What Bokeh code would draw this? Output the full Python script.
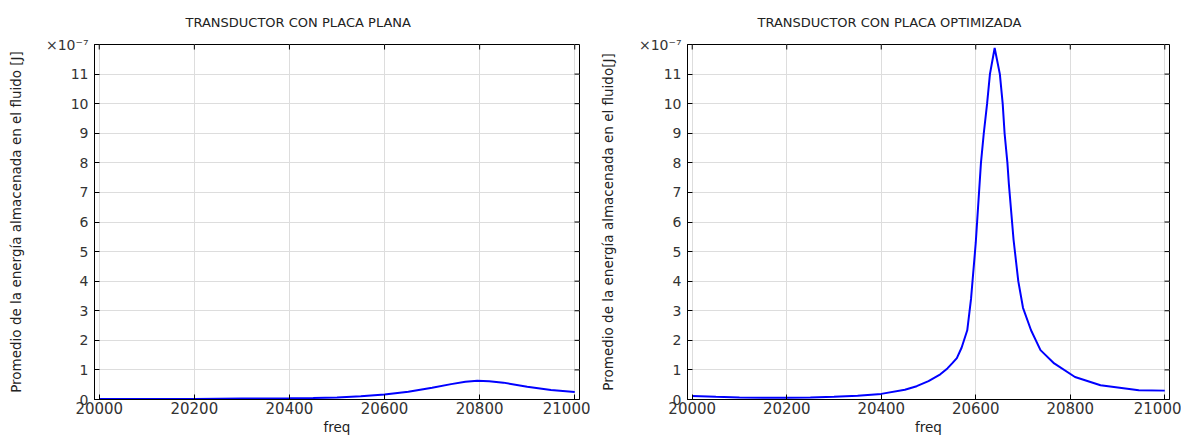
import math
from bokeh.plotting import figure
from bokeh.models import FixedTicker, Range1d
from bokeh.layouts import row
from bokeh.embed import file_html
from bokeh.resources import INLINE

# ---------------- data (energy in units of 1e-7 J) ----------------
freq_plana = [20000, 20100, 20200, 20300, 20400, 20450, 20500, 20550, 20600,
              20650, 20700, 20740, 20770, 20795, 20820, 20850, 20900, 20950, 21000]
energia_plana = [0.02, 0.02, 0.02, 0.03, 0.04, 0.05, 0.07, 0.11, 0.17,
                 0.26, 0.40, 0.52, 0.60, 0.63, 0.62, 0.57, 0.43, 0.32, 0.25]

freq_opt = [20000, 20050, 20100, 20150, 20200, 20250, 20300, 20350, 20400, 20450,
            20475, 20500, 20525, 20540, 20550, 20560, 20570, 20582, 20590, 20600,
            20611, 20617, 20624, 20630, 20640, 20651, 20657, 20661, 20667, 20670,
            20680, 20690, 20700, 20717, 20737, 20766, 20810, 20864, 20945, 21000]
energia_opt = [0.12, 0.09, 0.07, 0.06, 0.06, 0.07, 0.09, 0.13, 0.19, 0.33,
               0.45, 0.62, 0.85, 1.05, 1.22, 1.40, 1.75, 2.34, 3.40, 5.30,
               8.00, 9.00, 10.00, 11.00, 11.88, 11.00, 10.00, 9.00, 8.00, 7.30,
               5.40, 4.00, 3.10, 2.34, 1.67, 1.22, 0.76, 0.48, 0.31, 0.30]

x_ticks = [20000, 20200, 20400, 20600, 20800, 21000]
y_ticks = [0, 1, 2, 3, 4, 5, 6, 7, 8, 9, 10, 11, 12]
y_grid_ticks = [0, 1, 2, 3, 4, 5, 6, 7, 8, 9, 10, 11]
y_tick_labels = {12: "×10⁻⁷"}

titles = ["TRANSDUCTOR CON PLACA PLANA", "TRANSDUCTOR CON PLACA OPTIMIZADA"]
y_labels = ["Promedio de la energía almacenada en el fluido [J]",
            "Promedio de la energía almacenada en el fluido[J]"]
x_label = "freq"

X_MIN, X_MAX = 19990, 21010
Y_MIN, Y_MAX = 0, 12.0

FONT = "DejaVu Sans"


def make_fig(title, ylabel, xs, ys, width, bl, br, lab_standoff, t_off):
    p = figure(width=width, height=437, output_backend="svg", toolbar_location=None,
               x_range=Range1d(X_MIN, X_MAX), y_range=Range1d(Y_MIN, Y_MAX),
               min_border_left=bl, min_border_right=br,
               min_border_top=44, min_border_bottom=38)
    p.title.text = title
    p.title.align = "left"
    p.title.vertical_align = "top"
    p.title.offset = t_off
    p.title.text_font = FONT
    p.title.text_font_size = "13px"
    p.title.text_font_style = "normal"
    p.title.text_color = "#222222"
    p.title.standoff = 26

    p.outline_line_color = "black"
    p.outline_line_width = 1
    p.background_fill_color = "white"
    p.border_fill_color = "white"

    for ax in (p.xaxis[0], p.yaxis[0]):
        ax.major_tick_in = 5
        ax.major_tick_out = 0
        ax.minor_tick_line_color = None
        ax.axis_line_color = "black"
        ax.major_tick_line_color = "black"
        ax.major_label_text_font = FONT
        ax.major_label_text_font_size = "15px"
        ax.major_label_text_color = "#333333"
        ax.axis_label_text_font = FONT
        ax.axis_label_text_font_size = "13.5px"
        ax.axis_label_text_font_style = "normal"
        ax.axis_label_text_color = "#222222"

    p.xaxis.ticker = FixedTicker(ticks=x_ticks)
    p.yaxis.ticker = FixedTicker(ticks=y_ticks)
    p.yaxis.major_label_overrides = y_tick_labels
    p.yaxis.major_label_text_font_size = "14px"
    p.xaxis.axis_label = x_label
    p.yaxis.axis_label = ylabel
    p.xaxis.major_label_standoff = 2
    p.xaxis.axis_label_standoff = 2
    p.yaxis.major_label_standoff = 6
    p.yaxis.axis_label_standoff = lab_standoff

    p.xgrid.ticker = FixedTicker(ticks=x_ticks)
    p.ygrid.ticker = FixedTicker(ticks=y_grid_ticks)
    p.grid.grid_line_color = "#dddddd"
    p.grid.grid_line_width = 1

    # mirrored inward ticks on the top and right frame edges
    p.ray(x=x_ticks, y=[Y_MAX] * len(x_ticks), length=5, length_units="screen",
          angle=-math.pi / 2, line_color="black", line_width=1)
    p.ray(x=[X_MAX] * len(y_grid_ticks), y=y_grid_ticks, length=5, length_units="screen",
          angle=math.pi, line_color="black", line_width=1)

    p.line(xs, ys, line_color="#0000ff", line_width=2)
    return p


p1 = make_fig(titles[0], y_labels[0], freq_plana, energia_plana, 590, 94, 11, 19, 91)
p2 = make_fig(titles[1], y_labels[1], freq_opt, energia_opt, 591, 97, 12, 20, 70)

layout = row(p1, p2)
open("out.html", "w").write(file_html(layout, INLINE))
